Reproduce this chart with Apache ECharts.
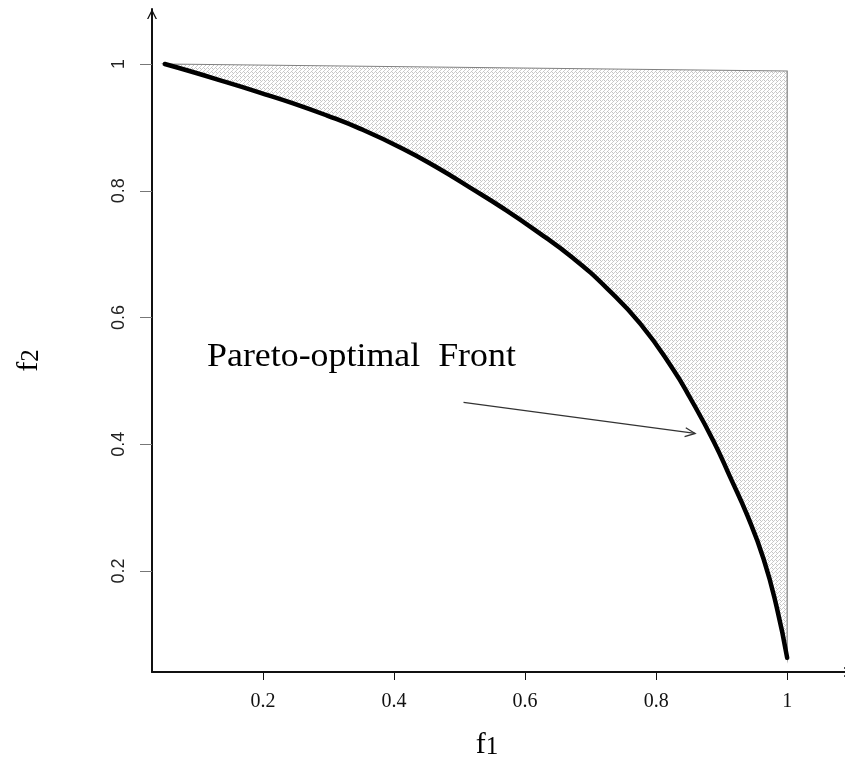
<!DOCTYPE html>
<html>
<head>
<meta charset="utf-8">
<script src="https://cdn.jsdelivr.net/npm/echarts@6/dist/echarts.min.js"></script>
<style>
  html, body { margin: 0; padding: 0; background: #fff; }
  #chart { width: 845px; height: 761px; }
</style>
</head>
<body>
<div id="chart"></div>
<script>
// Pareto-optimal front of a two-objective problem (f1, f2)
const f1Front = [0.050, 0.094, 0.145, 0.195, 0.246, 0.297, 0.348, 0.414, 0.465, 0.516,
                 0.567, 0.618, 0.674, 0.725, 0.776, 0.826, 0.852, 0.888, 0.913, 0.939,
                 0.964, 0.984, 1.000];
const f2Front = [1.000, 0.987, 0.971, 0.955, 0.938, 0.919, 0.898, 0.866, 0.837, 0.805,
                 0.772, 0.736, 0.693, 0.646, 0.590, 0.518, 0.473, 0.404, 0.348, 0.288,
                 0.219, 0.143, 0.063];

// corner of the dominated (shaded) region opposite the front
const regionCornerF1 = [1.000];
const regionCornerF2 = [0.989];

const xTicks = [0.2, 0.4, 0.6, 0.8, 1];
const yTicks = [0.2, 0.4, 0.6, 0.8, 1];

// annotation
const noteText = 'Pareto-optimal  Front';
const notePos = [0.1145, 0.537];
const arrowFrom = [0.506, 0.466];
const arrowTo = [0.8595, 0.417];

const frontData = f1Front.map((x, i) => [x, f2Front[i]]);

// light stipple used to fill the dominated region
function makeStipple() {
  const c = document.createElement('canvas');
  c.width = 4; c.height = 4;
  const g = c.getContext('2d');
  g.fillStyle = '#ffffff';
  g.fillRect(0, 0, 4, 4);
  g.fillStyle = '#c4c4c4';
  g.fillRect(0, 0, 1, 1);
  g.fillRect(1, 1, 1, 1);
  g.fillRect(3, 3, 1, 1);
  g.fillStyle = '#d0d0d0';
  g.fillRect(2, 0, 1, 1);
  g.fillRect(0, 2, 1, 1);
  return c;
}
const stipple = makeStipple();

// open chevron used as the arrow head on both axes
const chevron = 'path://M0,10 L5,0 L10,10 L8.6,10 L5,2.9 L1.4,10 Z';

const chart = echarts.init(document.getElementById('chart'), null, { renderer: 'canvas' });

const serif = '"Liberation Serif", "Times New Roman", serif';

const option = {
  animation: false,
  backgroundColor: '#ffffff',
  grid: { left: 152, right: -9, top: 9, bottom: 89, containLabel: false, outerBoundsMode: 'none' },
  xAxis: {
    type: 'value',
    min: 0.0305,
    max: 1.102,
    name: '{f|f}{s|1}',
    nameLocation: 'middle',
    nameGap: 58,
    nameTextStyle: {
      padding: [0, 32, 0, 0],
      rich: {
        f: { fontFamily: serif, fontSize: 30, color: '#000', verticalAlign: 'bottom' },
        s: { fontFamily: serif, fontSize: 25, color: '#000', verticalAlign: 'bottom' }
      }
    },
    axisLine: {
      show: true, onZero: false,
      lineStyle: { color: '#111', width: 2 },
      symbol: ['none', chevron], symbolSize: [10, 10], symbolOffset: [0, -5]
    },
    axisTick: { show: true, customValues: xTicks, length: 8, lineStyle: { color: '#111', width: 1 } },
    axisLabel: {
      customValues: xTicks, margin: 20,
      fontFamily: serif, fontSize: 20, color: '#111'
    },
    splitLine: { show: false }
  },
  yAxis: {
    type: 'value',
    min: 0.0406,
    max: 1.0868,
    name: '{f|f}{s|2}',
    nameLocation: 'middle',
    nameGap: 108,
    nameTextStyle: {
      padding: [0, 40, 0, 0],
      rich: {
        f: { fontFamily: serif, fontSize: 30, color: '#000', verticalAlign: 'bottom' },
        s: { fontFamily: serif, fontSize: 25, color: '#000', verticalAlign: 'bottom' }
      }
    },
    axisLine: {
      show: true, onZero: false,
      lineStyle: { color: '#111', width: 2 },
      symbol: ['none', chevron], symbolSize: [10, 10], symbolOffset: [0, -5]
    },
    axisTick: { show: true, customValues: yTicks, length: 12, lineStyle: { color: '#777', width: 1 } },
    axisLabel: {
      customValues: yTicks, rotate: 90, margin: 24,
      fontFamily: '"Liberation Sans", Arial, sans-serif', fontSize: 18, color: '#222'
    },
    splitLine: { show: false }
  },
  series: [
    {
      // dominated region between the front and its bounding corner
      type: 'custom',
      z: 1,
      silent: true,
      clip: false,
      data: [0],
      renderItem: function (params, api) {
        const pts = [];
        pts.push(api.coord(frontData[0]));
        pts.push(api.coord([regionCornerF1[0], regionCornerF2[0]]));
        for (let i = frontData.length - 1; i >= 0; i--) pts.push(api.coord(frontData[i]));
        return {
          type: 'polygon',
          shape: { points: pts, smooth: 0 },
          style: {
            fill: { image: stipple, repeat: 'repeat' },
            stroke: '#808080',
            lineWidth: 1.2
          }
        };
      }
    },
    {
      type: 'line',
      z: 3,
      data: frontData,
      smooth: 0.5,
      showSymbol: false,
      symbol: 'none',
      lineStyle: { color: '#000', width: 4.5, cap: 'round', join: 'round' }
    },
    {
      // label and pointer for the front
      type: 'custom',
      z: 4,
      silent: true,
      clip: false,
      data: [0],
      renderItem: function (params, api) {
        const a = api.coord(arrowFrom);
        const b = api.coord(arrowTo);
        const ang = Math.atan2(b[1] - a[1], b[0] - a[0]);
        const L = 11, spread = 0.42;
        const h1 = [b[0] - L * Math.cos(ang - spread), b[1] - L * Math.sin(ang - spread)];
        const h2 = [b[0] - L * Math.cos(ang + spread), b[1] - L * Math.sin(ang + spread)];
        const t = api.coord(notePos);
        return {
          type: 'group',
          children: [
            { type: 'line', shape: { x1: a[0], y1: a[1], x2: b[0], y2: b[1] },
              style: { stroke: '#333', lineWidth: 1.3 } },
            { type: 'polyline', shape: { points: [h1, b, h2] },
              style: { stroke: '#333', lineWidth: 1.3, fill: null } },
            { type: 'text', x: t[0], y: t[1], scaleX: 1.055,
              style: {
                text: noteText,
                font: '34px ' + serif,
                fill: '#000',
                align: 'left', verticalAlign: 'middle',
                textAlign: 'left', textVerticalAlign: 'middle'
              } }
          ]
        };
      }
    }
  ]
};

chart.setOption(option);
</script>
</body>
</html>
